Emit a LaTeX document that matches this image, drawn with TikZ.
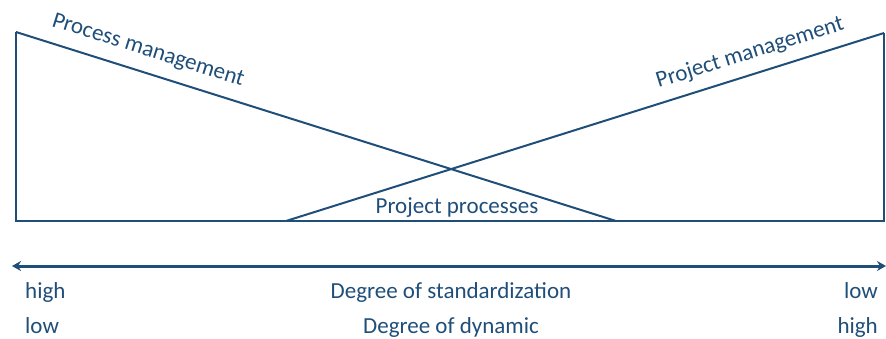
\documentclass[tikz,border=0pt]{standalone}
\usepackage{fontspec}
\setmainfont{Carlito}
\usetikzlibrary{arrows.meta}
\definecolor{dblue}{HTML}{1F4E79}
\begin{document}
\begin{tikzpicture}[x=1pt,y=-1pt,
  edge/.style={draw=dblue,line width=2pt,line join=miter},
  lbl/.style={text=dblue,font=\fontsize{23}{26}\selectfont,inner sep=0pt},
  axis/.style={draw=dblue,line width=3pt,{Stealth[length=9pt,width=10pt]}-{Stealth[length=9pt,width=10pt]}}]
\useasboundingbox (0,0) rectangle (886,338);
\coordinate (tl) at (16,32);
\coordinate (bl) at (16,221);
\coordinate (br) at (884,221);
\coordinate (tr) at (884,33);
\coordinate (pe) at (616,221);
\coordinate (ps) at (286,221);
\draw[edge] (tl) -- (bl) -- (br) -- (tr);
\draw[edge] (tl) -- (pe);
\draw[edge] (ps) -- (tr);
\node[lbl,rotate=-17.5] (pm) at (148,51) {Process management};
\node[lbl,rotate=17.45] (prm) at (750,53) {Project management};
\node[lbl,anchor=base] (pp) at (457,213) {Project processes};
\coordinate (al) at (12,266);
\coordinate (ar) at (886,266);
\draw[axis] (al) -- (ar);
\node[lbl,anchor=base west] (h1) at (25,298) {high};
\node[lbl,anchor=base] (ds) at (451,298) {Degree of standardization};
\node[lbl,anchor=base east] (l1) at (878,298) {low};
\node[lbl,anchor=base west] (l2) at (25,333) {low};
\node[lbl,anchor=base] (dd) at (451,333) {Degree of dynamic};
\node[lbl,anchor=base east] (h2) at (878,333) {high};
\end{tikzpicture}
\end{document}
